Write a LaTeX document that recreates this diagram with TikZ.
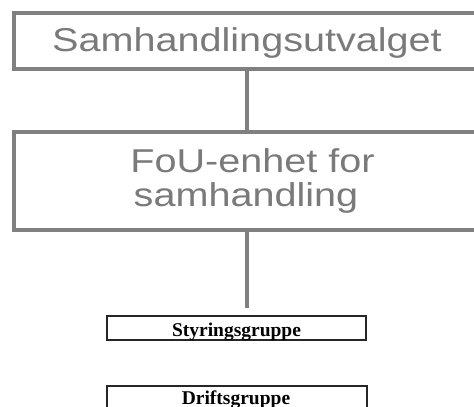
\documentclass[tikz,border=0pt]{standalone}
\usepackage{fontspec}
\setmainfont{Liberation Sans}
\newfontfamily\serifbold{Liberation Serif}
\definecolor{boxgray}{HTML}{808080}
\definecolor{txtgray}{HTML}{7A7A7A}
\tikzset{
  bigbox/.style={draw=boxgray, line width=4pt, inner sep=0pt, fill=white},
  smallbox/.style={draw=black!85, line width=1.3pt, inner sep=0pt},
  bigtext/.style={anchor=base, inner sep=0pt, text=txtgray, font=\fontsize{33}{34}\selectfont},
  smalltext/.style={anchor=base, inner sep=0pt, text=black, font=\serifbold\bfseries\fontsize{19.5}{20}\selectfont},
  conn/.style={draw=boxgray, line width=4pt}
}
\begin{document}
\begin{tikzpicture}[x=1pt,y=-1pt]
\useasboundingbox (0,0) rectangle (474,407);
\fill[white] (0,0) rectangle (474,407);
\node[bigbox, minimum width=467.5pt, minimum height=55.5pt] (top) at (247.25,40.75) {};
\node[bigbox, minimum width=467.5pt, minimum height=97.5pt] (fou) at (247.25,180.75) {};
\coordinate (lineend) at (247,308);
\draw[conn] (247,0 |- top.south) -- (247,0 |- fou.north);
\draw[conn] (247,0 |- fou.south) -- (lineend);
\node[smallbox, minimum width=259pt, minimum height=24pt] (styr) at (236.5,328) {};
\node[smallbox, minimum width=260pt, minimum height=40pt] (drift) at (237,406) {};
\node[bigtext] (t1) at (247,51) {\scalebox{1.2}[1]{Samhandlingsutvalget}};
\node[bigtext] (t2) at (252.5,172.7) {\scalebox{1.2}[1]{FoU-enhet for}};
\node[bigtext] (t3) at (246,206.7) {\scalebox{1.2}[1]{samhandling}};
\node[smalltext] (t4) at (236.5,336) {Styringsgruppe};
\node[smalltext] (t5) at (236,404.7) {Driftsgruppe};
\end{tikzpicture}
\end{document}
